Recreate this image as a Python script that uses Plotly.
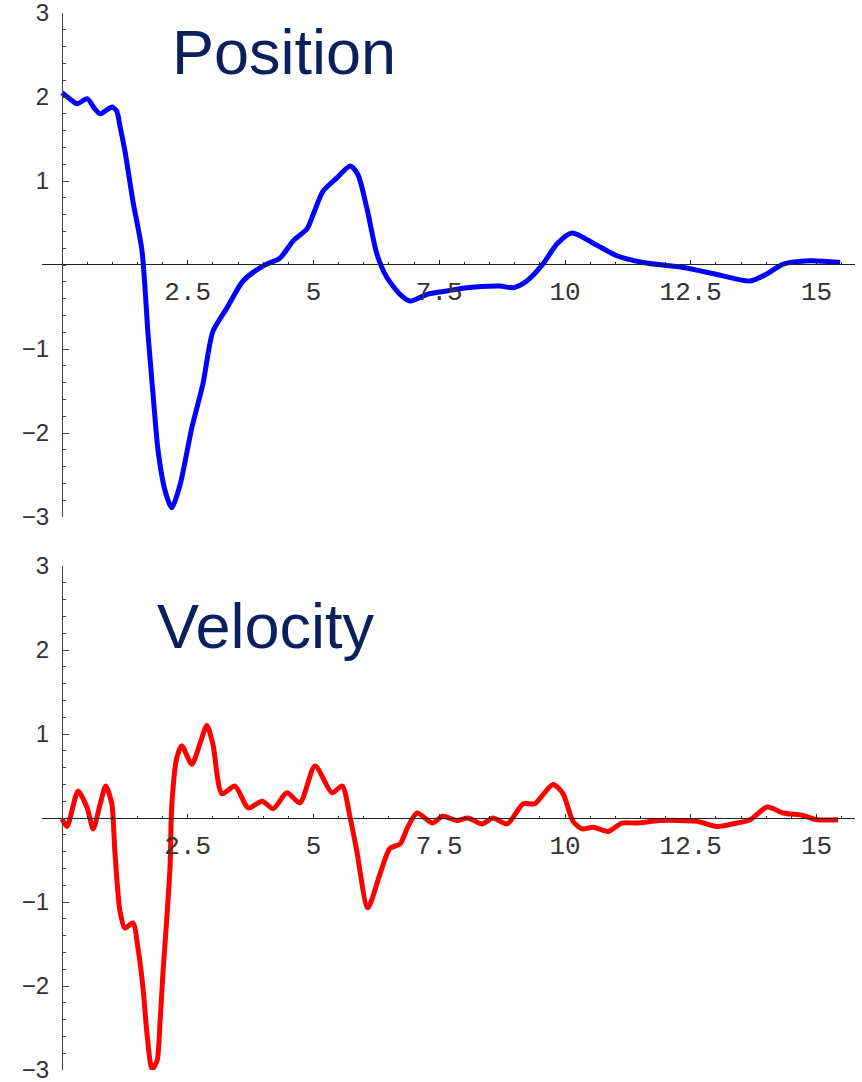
import plotly.graph_objects as go

# Position curve
t_pos = [0, 0.15, 0.3, 0.5, 0.65, 0.76, 0.9, 1.0, 1.09, 1.15, 1.25, 1.41, 1.59, 1.71,
         1.81, 1.91, 2.05, 2.18, 2.35, 2.58, 2.8, 3.0, 3.28, 3.6, 4.0, 4.33, 4.6, 4.87,
         5.0, 5.19, 5.47, 5.73, 5.88, 6.06, 6.26, 6.46, 6.72, 6.92, 7.26, 7.65, 8.05,
         8.7, 8.97, 9.24, 9.56, 9.84, 10.14, 10.56, 11.03, 11.55, 12.35, 13.0, 13.68,
         14.0, 14.34, 14.87, 15.47]
pos = [2.05, 1.98, 1.92, 1.98, 1.86, 1.80, 1.85, 1.88, 1.83, 1.66, 1.36, 0.76, 0.17, -0.82,
       -1.54, -2.21, -2.69, -2.89, -2.61, -1.94, -1.42, -0.79, -0.51, -0.19, -0.01, 0.08,
       0.29, 0.43, 0.61, 0.88, 1.04, 1.18, 1.08, 0.68, 0.13, -0.15, -0.35, -0.43, -0.35,
       -0.31, -0.27, -0.25, -0.27, -0.19, 0.01, 0.25, 0.38, 0.26, 0.11, 0.03, -0.03, -0.11,
       -0.19, -0.11, 0.01, 0.05, 0.03]

# Velocity curve
t_vel = [0, 0.1, 0.32, 0.5, 0.62, 0.76, 0.87, 0.99, 1.05, 1.15, 1.25, 1.41, 1.51, 1.61,
         1.69, 1.79, 1.89, 1.95, 2.01, 2.09, 2.15, 2.18, 2.28, 2.38, 2.58, 2.74, 2.88,
         3.0, 3.18, 3.44, 3.7, 3.98, 4.2, 4.47, 4.73, 5.03, 5.37, 5.57, 5.73, 5.86, 6.08,
         6.32, 6.52, 6.72, 6.88, 7.06, 7.36, 7.57, 7.85, 8.07, 8.35, 8.57, 8.85, 9.17,
         9.4, 9.76, 9.96, 10.16, 10.34, 10.56, 10.86, 11.13, 11.43, 11.89, 12.62, 13.02,
         13.42, 13.68, 14.02, 14.34, 14.73, 15.0, 15.43]
vel = [-0.01, -0.1, 0.32, 0.12, -0.13, 0.17, 0.38, 0.17, -0.39, -1.1, -1.31, -1.25, -1.55,
       -2.02, -2.57, -2.99, -2.89, -2.42, -1.82, -1.14, -0.55, 0.12, 0.71, 0.86, 0.64,
       0.88, 1.10, 0.88, 0.29, 0.38, 0.12, 0.20, 0.11, 0.30, 0.18, 0.62, 0.30, 0.38, 0.0,
       -0.39, -1.07, -0.67, -0.36, -0.31, -0.1, 0.06, -0.06, 0.02, -0.03, 0.0, -0.07, 0.0,
       -0.07, 0.17, 0.17, 0.40, 0.29, -0.04, -0.13, -0.11, -0.16, -0.06, -0.06, -0.03,
       -0.04, -0.1, -0.06, -0.02, 0.13, 0.06, 0.03, -0.02, -0.02]

x_ticks = [2.5, 5, 7.5, 10, 12.5, 15]
x_labels = ["2.5", "5", "7.5", "10", "12.5", "15"]
y_ticks = [-3, -2, -1, 1, 2, 3]
y_labels = ["\u22123", "\u22122", "\u22121", "1", "2", "3"]

W, H = 862, 1082

fig = go.Figure()
fig.add_trace(go.Scatter(x=t_pos, y=pos, mode="lines", xaxis="x", yaxis="y",
                         line=dict(color="#0000ff", width=5, shape="spline", smoothing=0.7)))
fig.add_trace(go.Scatter(x=t_vel, y=vel, mode="lines", xaxis="x2", yaxis="y2",
                         line=dict(color="#ff0000", width=5, shape="spline", smoothing=0.7)))

xdom = [42 / W, 855 / W]
xrng = [-20 / 50.3, 793 / 50.3]

def xaxis(pos_px):
    return dict(domain=xdom, range=xrng, anchor="free", position=1 - pos_px / H,
                automargin=False,
                showline=True, linecolor="#222", linewidth=1, showgrid=False, zeroline=False,
                tickmode="array", tickvals=x_ticks, ticktext=x_labels,
                ticks="inside", ticklen=4, tickcolor="#222",
                minor=dict(tickmode="linear", tick0=0, dtick=0.5, ticks="inside",
                           ticklen=2, tickcolor="#222", showgrid=False),
                tickfont=dict(family="Liberation Mono", size=26, color="#333"),
                ticklabelstandoff=4)

def yaxis(top_px, bot_px):
    return dict(domain=[1 - bot_px / H, 1 - top_px / H], range=[-3, 3],
                anchor="free", position=62 / W, automargin=False,
                showline=True, linecolor="#444", linewidth=1, showgrid=False, zeroline=False,
                tickmode="array", tickvals=y_ticks, ticktext=y_labels,
                ticks="inside", ticklen=6, tickcolor="#444",
                minor=dict(tickmode="linear", tick0=0, dtick=0.2, ticks="inside",
                           ticklen=3, tickcolor="#444", showgrid=False),
                tickfont=dict(family="Liberation Sans", size=24, color="#333"),
                ticklabeloverflow="allow",
                ticklabelstandoff=8)

fig.update_layout(
    width=W, height=H,
    margin=dict(l=0, r=0, t=0, b=0, autoexpand=False),
    paper_bgcolor="white", plot_bgcolor="white",
    showlegend=False,
    xaxis=xaxis(264),
    yaxis=yaxis(13, 517),
    xaxis2=xaxis(818),
    yaxis2=yaxis(566, 1070),
    annotations=[
        dict(text="Position", xref="paper", yref="paper", x=170 / W, y=1 - 52 / H,
             xanchor="left", yanchor="middle", showarrow=False,
             font=dict(family="Liberation Sans", size=63, color="#0b1f5e")),
        dict(text="Velocity", xref="paper", yref="paper", x=155 / W, y=1 - 626 / H,
             xanchor="left", yanchor="middle", showarrow=False,
             font=dict(family="Liberation Sans", size=63, color="#0b1f5e")),
    ],
)

fig.write_html("out.html", config={"displayModeBar": False},
               post_script="document.body.style.margin='0';")
